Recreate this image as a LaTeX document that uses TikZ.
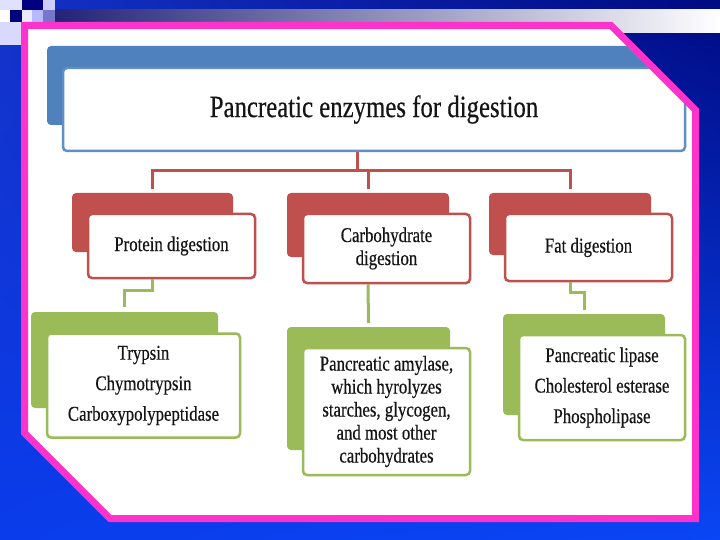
\documentclass[tikz,border=0pt]{standalone}
\usepackage{fontspec}
\usetikzlibrary{shadings}
\setmainfont{Liberation Serif}[FakeStretch=0.8,FakeBold=0.4]
\definecolor{cblue}{HTML}{4F81BD}
\definecolor{cred}{HTML}{C0504D}
\definecolor{cgreen}{HTML}{9BBB59}
\definecolor{cpink}{HTML}{FF33CC}
\definecolor{ctext}{HTML}{151515}
\definecolor{bgul}{RGB}{20,50,200}
\definecolor{bgur}{RGB}{0,10,130}
\definecolor{bgll}{RGB}{10,60,235}
\definecolor{bglr}{RGB}{10,70,245}
\definecolor{bandl}{RGB}{35,35,120}
\tikzset{
  framepath/.style={insert path={(24.5,25.5) -- (611,25.5) -- (695.5,110) -- (695.5,518.5) -- (110,518.5) -- (24.5,433) -- cycle}},
  backbox/.style={rounded corners=4pt, inner sep=0pt, draw=none},
  frontbox/.style={rounded corners=4pt, fill=white, line width=2.5pt, inner sep=0pt, text=ctext, align=center},
  redcon/.style={draw=cred, line width=3pt},
  greencon/.style={draw=cgreen, line width=3pt},
  lbl/.style={font=\fontsize{21}{23}\selectfont},
  lblw/.style={font=\fontsize{21}{30.5}\selectfont},
}
\begin{document}
\begin{tikzpicture}[x=1pt,y=-1pt]
\useasboundingbox (0,0) rectangle (720,540);
% background
\shade[upper left=bgul, upper right=bgur, lower left=bgll, lower right=bglr]
  (0,0) rectangle (720,540);
\shade[left color=bandl, right color=white] (55,10) rectangle (720,33);
\fill[white!88!blue] (0,0) rectangle (22,10);
\fill[blue!50!black] (22,0) rectangle (43,10);
\fill[white!80!blue] (43,0) rectangle (55,10);
\fill[white] (0,10) rectangle (10,22);
\fill[blue!50!black] (10,10) rectangle (22,22);
\fill[white!92!blue] (22,10) rectangle (32,22);
\fill[white!72!blue] (32,10) rectangle (43,22);
\fill[white!58!blue!80!black] (43,10) rectangle (55,22);
\fill[white!85!blue] (0,22) rectangle (21,45);
% frame
\fill[white, framepath];
\begin{scope}
\clip[framepath];
% title
\node[backbox, fill=cblue, minimum width=620pt, minimum height=79pt] (tback) at (357,85.5) {};
\node[frontbox, draw=cblue!90!white, minimum width=622pt, minimum height=83pt,
      font=\fontsize{31}{34}\selectfont] (tfront) at (374,109.5) {Pancreatic enzymes for digestion};
% second level
\node[backbox, fill=cred, minimum width=161pt, minimum height=59pt] (pback) at (152.5,222.5) {};
\node[backbox, fill=cred, minimum width=162pt, minimum height=64pt] (cback) at (368,225) {};
\node[backbox, fill=cred, minimum width=162pt, minimum height=62pt] (fback) at (570,224) {};
\node[frontbox, draw=cred, lbl, minimum width=167pt, minimum height=64pt] (pfront) at (171.5,246) {Protein digestion};
\node[frontbox, draw=cred, lbl, minimum width=167pt, minimum height=69pt] (cfront) at (386.5,248.5) {Carbohydrate\\digestion};
\node[frontbox, draw=cred, lbl, minimum width=167pt, minimum height=67pt] (ffront) at (588.5,247.5) {Fat digestion};
% third level
\node[backbox, fill=cgreen, minimum width=187pt, minimum height=96pt] (gpback) at (124.5,360) {};
\node[backbox, fill=cgreen, minimum width=163pt, minimum height=123pt] (gcback) at (368.5,388.5) {};
\node[backbox, fill=cgreen, minimum width=162pt, minimum height=101pt] (gfback) at (584,364.5) {};
\node[frontbox, draw=cgreen, lblw, minimum width=193pt, minimum height=104pt] (gpfront) at (143.5,385.5) {Trypsin\\Chymotrypsin\\Carboxypolypeptidase};
\node[frontbox, draw=cgreen, lbl, minimum width=167pt, minimum height=127pt] (gcfront) at (386.5,411.5) {Pancreatic amylase,\\which hyrolyzes\\starches, glycogen,\\and most other\\carbohydrates};
\node[frontbox, draw=cgreen, lblw, minimum width=166pt, minimum height=105pt] (gffront) at (602,387.5) {Pancreatic lipase\\Cholesterol esterase\\Phospholipase};
% connectors
\coordinate (bus) at (0,171);
\coordinate (gbendp) at (0,290);
\coordinate (gbendf) at (0,292);
\draw[redcon] (tback.south |- tfront.south) -- (tback.south |- bus);
\draw[redcon] ([yshift=4pt]pback.north) |- (fback.north |- bus) -- ([yshift=4pt]fback.north);
\draw[redcon] (cback.north |- bus) -- ([yshift=4pt]cback.north);
\draw[greencon] (pback.south |- pfront.south) -- (pback.south |- gbendp) -| ([yshift=5pt]gpback.north);
\draw[greencon] (cback.south |- cfront.south) -- ([yshift=4pt]gcback.north);
\draw[greencon] (fback.south |- ffront.south) -- (fback.south |- gbendf) -| ([yshift=4pt]gfback.north);
\end{scope}
\draw[cpink, line width=7pt, framepath];
\end{tikzpicture}
\end{document}
